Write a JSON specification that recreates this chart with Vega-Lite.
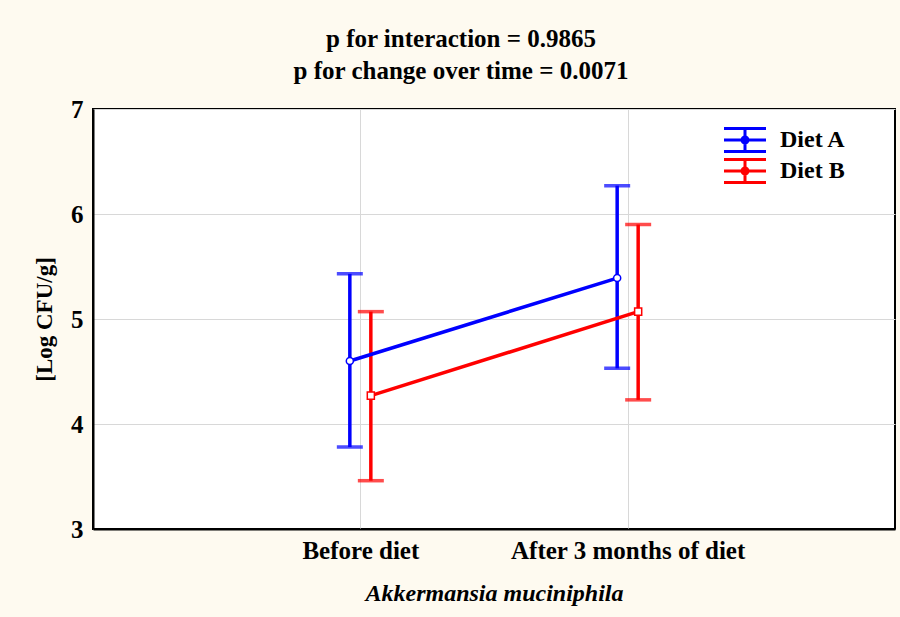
{
  "$schema": "https://vega.github.io/schema/vega-lite/v6.json",
  "width": 802,
  "height": 420,
  "autosize": "none",
  "padding": {"left": 93, "top": 109, "right": 5, "bottom": 88},
  "background": "#fefaf0",
  "title": {
    "text": ["p for interaction = 0.9865", "p for change over time = 0.0071"],
    "font": "Liberation Serif",
    "fontSize": 25,
    "fontWeight": "bold",
    "lineHeight": 32,
    "offset": 13,
    "dx": -33,
    "color": "black"
  },
  "config": {
    "view": {"stroke": "black", "strokeWidth": 2, "fill": "white"},
    "axis": {
      "domainColor": "black",
      "domainWidth": 2,
      "gridColor": "#d8d8d8",
      "gridWidth": 1,
      "labelColor": "black",
      "titleColor": "black",
      "labelFont": "Liberation Serif",
      "titleFont": "Liberation Serif",
      "labelFontWeight": "bold",
      "titleFontWeight": "bold",
      "labelLimit": 400
    },
    "legend": {
      "labelFont": "Liberation Serif",
      "labelFontSize": 24,
      "labelFontWeight": "bold",
      "labelColor": "black"
    }
  },
  "data": {
    "values": [
      {"time": "Before diet", "diet": "Diet A", "mean": 4.6, "lo": 3.78, "hi": 5.43},
      {"time": "After 3 months of diet", "diet": "Diet A", "mean": 5.39, "lo": 4.53, "hi": 6.27},
      {"time": "Before diet", "diet": "Diet B", "mean": 4.27, "lo": 3.46, "hi": 5.07},
      {"time": "After 3 months of diet", "diet": "Diet B", "mean": 5.07, "lo": 4.23, "hi": 5.9}
    ]
  },
  "encoding": {
    "x": {
      "field": "time",
      "type": "nominal",
      "sort": ["Before diet", "After 3 months of diet"],
      "scale": {"type": "point", "padding": 1},
      "title": "Akkermansia muciniphila",
      "axis": {
        "labelAngle": 0,
        "labelFontSize": 25,
        "labelPadding": 9,
        "ticks": false,
        "grid": true,
        "titleFontSize": 24,
        "titleFontStyle": "italic",
        "titlePadding": 18
      }
    },
    "xOffset": {
      "field": "diet",
      "type": "nominal",
      "scale": {"domain": ["Diet A", "Diet B"], "range": [-21, 21]}
    },
    "color": {
      "field": "diet",
      "type": "nominal",
      "scale": {"domain": ["Diet A", "Diet B"], "range": ["#0000ff", "#ff0000"]},
      "legend": {
        "title": null,
        "orient": "none",
        "legendX": 640,
        "legendY": 19,
        "symbolType": "M-2.1,-1.15H2.1M-2.1,0H2.1M-2.1,1.15H2.1M0,-1.15V1.15M0.3,0A0.3,0.3 0 1,1 -0.3,0A0.3,0.3 0 1,1 0.3,0",
        "symbolSize": 400,
        "symbolStrokeWidth": 3,
        "labelOffset": 23,
        "rowPadding": -5,
        "encode": {
          "symbols": {
            "update": {
              "fill": {"value": "transparent"},
              "fillOpacity": {"value": 0},
              "strokeOpacity": {"value": 1},
              "opacity": {"value": 1},
              "shape": {"value": "M-2.1,-1.15H2.1M-2.1,0H2.1M-2.1,1.15H2.1M0,-1.15V1.15M0.3,0A0.3,0.3 0 1,1 -0.3,0A0.3,0.3 0 1,1 0.3,0"},
              "size": {"value": 400},
              "strokeWidth": {"value": 3}
            }
          }
        }
      }
    }
  },
  "layer": [
    {
      "mark": {"type": "rule", "strokeWidth": 3.5},
      "encoding": {
        "y": {
          "field": "lo",
          "type": "quantitative",
          "scale": {"domain": [3, 7]},
          "title": "[Log CFU/g]",
          "axis": {
            "values": [3, 4, 5, 6, 7],
            "format": "d",
            "labelFontSize": 25,
            "labelPadding": 10,
            "ticks": false,
            "titleFontSize": 23,
            "titlePadding": 14
          }
        },
        "y2": {"field": "hi"}
      }
    },
    {
      "mark": {"type": "tick", "orient": "horizontal", "size": 26, "thickness": 3.5},
      "encoding": {"y": {"field": "lo", "type": "quantitative"}}
    },
    {
      "mark": {"type": "tick", "orient": "horizontal", "size": 26, "thickness": 3.5},
      "encoding": {"y": {"field": "hi", "type": "quantitative"}}
    },
    {
      "mark": {"type": "line", "strokeWidth": 3.5},
      "encoding": {"y": {"field": "mean", "type": "quantitative"}}
    },
    {
      "transform": [{"filter": "datum.diet === 'Diet A'"}],
      "mark": {"type": "point", "shape": "circle", "filled": false, "fill": "white", "strokeWidth": 1.5, "size": 50, "opacity": 1},
      "encoding": {"y": {"field": "mean", "type": "quantitative"}}
    },
    {
      "transform": [{"filter": "datum.diet === 'Diet B'"}],
      "mark": {"type": "point", "shape": "square", "filled": false, "fill": "white", "strokeWidth": 1.5, "size": 50, "opacity": 1},
      "encoding": {"y": {"field": "mean", "type": "quantitative"}}
    }
  ]
}
